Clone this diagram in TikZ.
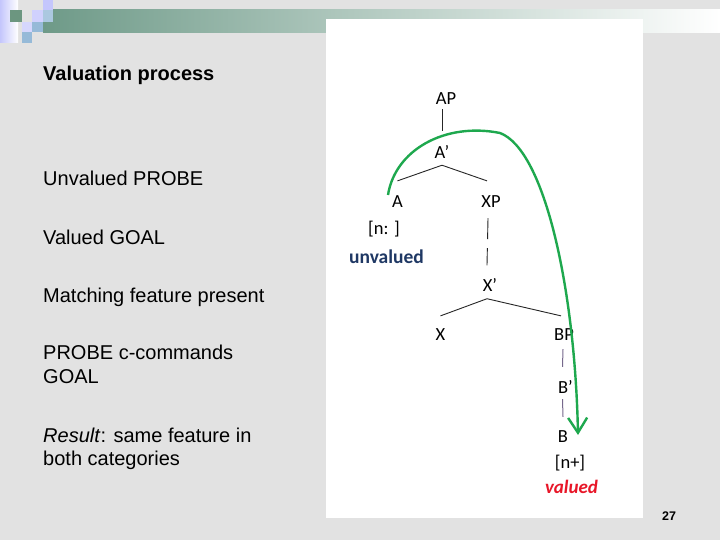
\documentclass[tikz,border=0pt]{standalone}
\usepackage{fontspec}
\setmainfont{Liberation Sans}
\newfontfamily\treefont{Carlito}
\usetikzlibrary{arrows.meta}

\definecolor{slidegray}{RGB}{226,226,226}
\definecolor{bandgreen}{RGB}{110,154,136}
\definecolor{lavender}{RGB}{196,198,252}
\definecolor{tileblue}{RGB}{150,186,216}
\definecolor{tilegreen}{RGB}{108,150,128}
\definecolor{arcgreen}{RGB}{30,168,78}
\definecolor{probeblue}{RGB}{31,56,100}
\definecolor{goalred}{RGB}{232,22,40}
\definecolor{stemgray}{RGB}{118,104,140}

\begin{document}
\begin{tikzpicture}[x=1pt,y=-1pt,
  point/.style={font=\fontsize{20}{24}\selectfont, anchor=base west, inner sep=0pt},
  cat/.style={font=\treefont\fontsize{18.5}{20}\selectfont, inner sep=0pt},
  branch/.style={draw=black!85, line width=0.9pt},
  stem/.style={draw=stemgray, line width=1pt},
  arc/.style={draw=arcgreen, line width=2.4pt, -{Straight Barb[length=15pt,width=19pt]}}]
    \useasboundingbox (0,0) rectangle (720,540);

    % slide background
    \fill[slidegray] (0,0) rectangle (720,540);
    \shade[left color=bandgreen, right color=white] (43,10) rectangle (720,33);
    \shade[left color=lavender, right color=white] (0,0) rectangle (18,43);
    \fill[tilegreen] (10,10) rectangle (22,22);
    \fill[lavender] (43,0) rectangle (53,10);
    \fill[lavender!80] (32,10) rectangle (43,22);
    \fill[tileblue!80] (43,10) rectangle (53,22);
    \fill[lavender!70] (22,22) rectangle (32,32);
    \fill[tileblue] (32,22) rectangle (43,32);
    \fill[tileblue] (22,32) rectangle (32,43);
    \fill[white] (326,19) rectangle (643,518);

    % left column
    \node[point, font=\bfseries\fontsize{20}{24}\selectfont] (title) at (43,81) {Valuation process};
    \node[point] (probe-txt) at (43,186) {Unvalued PROBE};
    \node[point] (goal-txt) at (43,244) {Valued GOAL};
    \node[point] (match-txt) at (43,302) {Matching feature present};
    \node[point] (ccom-txt) at (43,359) {PROBE c-commands};
    \node[point] (ccom-txt2) at (43,383) {GOAL};
    \node[point] (result-txt) at (43,442) {\textit{Result}: same feature in};
    \node[point] (result-txt2) at (43,465) {both categories};

    % tree
    \node[cat] (AP) at (446,99) {AP};
    \node[cat] (Abar) at (442,151.5) {A’};
    \node[cat] (A) at (397.5,202) {A};
    \node[cat] (XP) at (491,202) {XP};
    \node[cat] (Xbar) at (490,285) {X’};
    \node[cat] (X) at (440.5,335) {X};
    \node[cat] (BP) at (564,335) {BP};
    \node[cat] (Bbar) at (565.5,386.5) {B’};
    \node[cat] (B) at (563,437) {B};
    \node[cat] (nA) at (384,229) {[n: ]};
    \node[cat, font=\treefont\bfseries\fontsize{19.5}{20}\selectfont, text=probeblue] (unval) at (386.5,257) {unvalued};
    \node[cat] (nB) at (570,463) {[n+]};
    \node[cat, font=\treefont\bfseries\itshape\fontsize{19}{20}\selectfont, text=goalred] (val) at (571.5,487) {valued};

    \draw[branch] ([yshift=-4pt]AP.south -| Abar.north) -- ([yshift=14pt]Abar.north);
    \draw[branch] ([yshift=-7pt]Abar.south) -- ([yshift=15pt]A.north);
    \draw[branch] ([yshift=-7pt]Abar.south) -- ([xshift=-4pt,yshift=15pt]XP.north);
    \draw[branch, dash pattern=on 21pt off 9pt] ([xshift=-3pt,yshift=-10pt]XP.south) -- ([xshift=-3pt,yshift=13pt]Xbar.north);
    \draw[branch] ([xshift=-3pt,yshift=-7pt]Xbar.south) -- ([yshift=13pt]X.north);
    \draw[branch] ([xshift=-3pt,yshift=-7pt]Xbar.south) -- ([xshift=-3pt,yshift=13pt]BP.north);
    \draw[stem] ([xshift=-1pt,yshift=-8pt]BP.south) -- ([xshift=-3pt,yshift=13pt]Bbar.north);
    \draw[stem] ([xshift=-3pt,yshift=-6pt]Bbar.south) -- ([yshift=14pt]B.north);

    % agree arrow
    \coordinate (probe) at ([xshift=-9.5pt,yshift=7pt]A.center);
    \coordinate (goal) at ([xshift=15pt,yshift=2pt]B.center);
    \draw[arc] (probe) .. controls (395,150) and (445,122) .. (500,133)
        .. controls (545,150) and (575,290) .. (goal);

    \node[font=\bfseries\fontsize{12.5}{14}\selectfont, inner sep=0pt] (pagenum) at (669,516.5) {27};
\end{tikzpicture}
\end{document}
